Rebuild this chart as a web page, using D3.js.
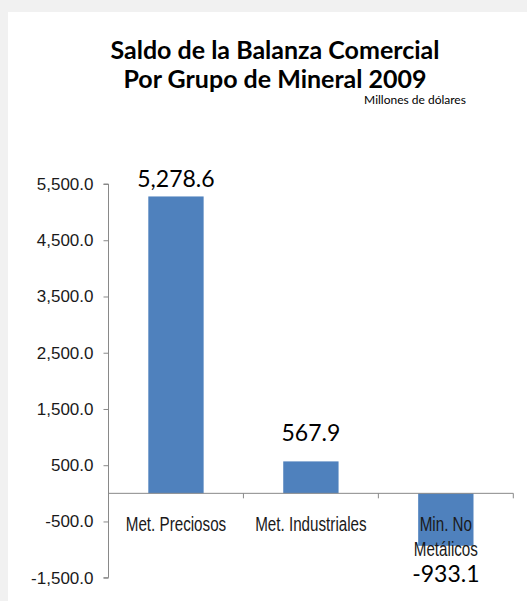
<html>
<head>
<meta charset="utf-8">
<script src="https://d3js.org/d3.v7.min.js"></script>
<style>
body {margin: 0; background: #f1f1f1;}
svg {display: block;}
</style>
</head>
<body>
<svg id="chart"></svg>
<script>
// data
var categories = ["Met. Preciosos", "Met. Industriales", "Min. No Metálicos"];
var catLines = [["Met. Preciosos"], ["Met. Industriales"], ["Min. No", "Metálicos"]];
var values = [5278.6, 567.9, -933.1];
var valueLabels = ["5,278.6", "567.9", "-933.1"];
var yTicks = [5500, 4500, 3500, 2500, 1500, 500, -500, -1500];

var W = 527, H = 601;
var svg = d3.select("#chart").attr("width", W).attr("height", H);

// background / chart area
svg.append("rect").attr("width", W).attr("height", H).style("fill", "#f1f1f1");
svg.append("rect").attr("x", 8).attr("y", 12).attr("width", W - 8).attr("height", H - 12).style("fill", "#ffffff");

// scales
var x0 = 108.5, x1 = 513.3;
var xscale = d3.scaleBand().domain(categories).range([x0, x1]).paddingInner(0.59).paddingOuter(0.295);
var yscale = d3.scaleLinear().domain([-1500, 5500]).range([577.7, 184]);

// title
var title = svg.append("text")
    .attr("text-anchor", "middle")
    .style("font-family", "Lato, 'Open Sans', sans-serif")
    .style("font-weight", "bold")
    .style("font-size", "25px")
    .style("fill", "#000");
title.append("tspan").attr("x", 275).attr("y", 59).text("Saldo de la Balanza Comercial");
title.append("tspan").attr("x", 275).attr("y", 88).text("Por Grupo de Mineral 2009");

svg.append("text")
    .attr("x", 415).attr("y", 104)
    .attr("text-anchor", "middle")
    .style("font-family", "Lato, sans-serif")
    .style("font-size", "12px")
    .style("fill", "#000")
    .text("Millones de dólares");

// bars
svg.append("g").selectAll("rect")
    .data(values)
    .enter()
    .append("rect")
        .attr("x", function(d, i) {return xscale(categories[i]);})
        .attr("width", xscale.bandwidth())
        .attr("y", function(d) {return yscale(Math.max(0, d));})
        .attr("height", function(d) {return Math.abs(yscale(d) - yscale(0));})
        .style("fill", "#4f81bd");

// y axis
var fmt = d3.format(",.1f");
var yAxis = svg.append("g")
    .attr("transform", "translate(" + x0 + ",0)")
    .call(d3.axisLeft(yscale).tickValues(yTicks).tickSize(5).tickPadding(10)
        .tickFormat(function(d) {return fmt(d).replace("\u2212", "-");}));
yAxis.select(".domain").attr("stroke", "#898989").attr("d", "M-5," + yscale(5500) + "H0V" + yscale(-1500) + "H-5");
yAxis.selectAll(".tick line").attr("stroke", "#898989");
yAxis.selectAll(".tick text")
    .style("font-family", "'Liberation Sans', Arial, sans-serif")
    .style("font-size", "17px")
    .style("fill", "#1a1a1a");

// x axis (zero line)
var xAxis = svg.append("g").attr("transform", "translate(0," + yscale(0) + ")");
xAxis.append("line").attr("x1", x0).attr("x2", x1).attr("stroke", "#898989");
xAxis.selectAll(".xt")
    .data(categories)
    .enter()
    .append("line")
        .attr("x1", function(d) {return xscale(d) + xscale.bandwidth() / 2 + xscale.step() / 2;})
        .attr("x2", function(d) {return xscale(d) + xscale.bandwidth() / 2 + xscale.step() / 2;})
        .attr("y1", 0).attr("y2", 5)
        .attr("stroke", "#898989");

// category labels (narrow look: squeezed horizontally)
var cat = svg.append("g").selectAll("g")
    .data(catLines)
    .enter()
    .append("g")
        .attr("transform", function(d, i) {
            return "translate(" + (xscale(categories[i]) + xscale.bandwidth() / 2) + "," + (yscale(0) + 38) + ") scale(0.78,1)";
        });
cat.each(function(lines) {
    d3.select(this).selectAll("text")
        .data(lines)
        .enter()
        .append("text")
            .attr("x", 0)
            .attr("y", function(d, j) {return j * 25;})
            .attr("text-anchor", "middle")
            .style("font-family", "'Liberation Sans', Arial, sans-serif")
            .style("font-size", "19.5px")
            .style("fill", "#1a1a1a")
            .text(function(d) {return d;});
});

// data labels
svg.append("g").selectAll("text")
    .data(values)
    .enter()
    .append("text")
        .attr("x", function(d, i) {return xscale(categories[i]) + xscale.bandwidth() / 2;})
        .attr("y", function(d) {
            if (d < 0) return yscale(d) + 36;
            return Math.max(yscale(d) - 20, 187);
        })
        .attr("text-anchor", "middle")
        .style("font-family", "Lato, sans-serif")
        .style("font-size", "23px")
        .style("fill", "#000")
        .text(function(d, i) {return valueLabels[i];});
</script>
</body>
</html>
